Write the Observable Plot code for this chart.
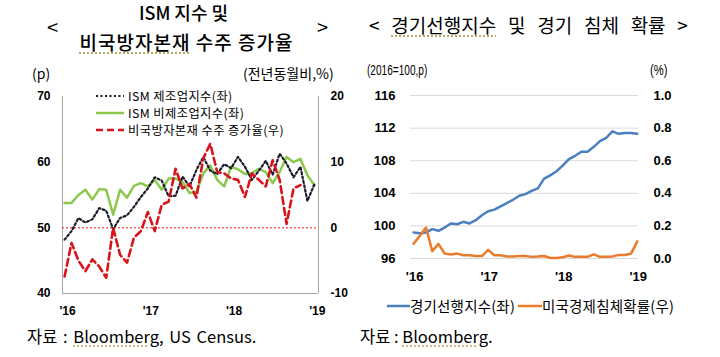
<!DOCTYPE html>
<html><head><meta charset="utf-8">
<script src="https://cdn.jsdelivr.net/npm/d3@7"></script>
<script src="https://cdn.jsdelivr.net/npm/@observablehq/plot@0.6"></script>
<style>
body{margin:0;background:#fff;width:720px;height:357px;overflow:hidden;position:relative;font-family:"Noto Sans CJK KR","Noto Sans",sans-serif;color:#000;}
.abs{position:absolute;white-space:nowrap;line-height:1;}
.sq{text-decoration:underline dotted #b8a86a;text-underline-offset:3px;}
.num{font-family:"Liberation Sans",Arial,sans-serif;}
.leg{display:flex;align-items:center;font-size:12.3px;letter-spacing:0.4px;height:16.7px;}
.leg svg{margin-right:4px;}
</style></head><body>
<div id="left" class="abs" style="left:0;top:0"></div>
<div id="right" class="abs" style="left:360px;top:0"></div>

<div class="abs" style="left:0;width:367px;top:3px;text-align:center;font-size:18px;font-weight:500;">ISM 지수 및</div>
<div class="abs" style="left:0;width:373px;top:32px;text-align:center;font-size:19px;font-weight:500;letter-spacing:1px;"><span class="sq">비국방자본재</span> 수주 증가율</div>
<div class="abs" style="left:47px;top:17px;font-size:20px;">&lt;</div>
<div class="abs" style="left:317px;top:17px;font-size:20px;">&gt;</div>
<div class="abs" style="left:32px;top:66px;font-size:14px;">(p)</div>
<div class="abs" style="left:243px;top:66px;font-size:14px;">(전년동월비,%)</div>

<div class="abs" style="left:96px;top:88px;">
  <div class="leg"><svg width="28" height="6"><line x1="0" x2="28" y1="3" y2="3" stroke="#1b1b2b" stroke-width="2.2" stroke-dasharray="2,2.5"/></svg>ISM 제조업지수(좌)</div>
  <div class="leg"><svg width="28" height="6"><line x1="0" x2="28" y1="3" y2="3" stroke="#8cc84b" stroke-width="2.5"/></svg>ISM 비제조업지수(좌)</div>
  <div class="leg"><svg width="28" height="6"><line x1="0" x2="28" y1="3" y2="3" stroke="#d7141c" stroke-width="2.6" stroke-dasharray="7,4"/></svg>비국방자본재 수주 증가율(우)</div>
</div>
<div class="abs" style="left:27px;top:328px;font-size:16.5px;word-spacing:2px;">자료 : <span class="sq">Bloomberg</span>, US Census.</div>

<div class="abs" style="left:369px;top:15px;font-size:19px;word-spacing:7.5px;">&lt; <span class="sq">경기선행지수</span> 및 경기 침체 확률 &gt;</div>
<div class="abs num" style="left:367px;top:63px;font-size:14px;transform:scaleX(0.72);transform-origin:left top;">(2016=100,p)</div>
<div class="abs num" style="left:650px;top:63px;font-size:14px;transform:scaleX(0.8);transform-origin:left top;">(%)</div>
<div class="abs" style="left:387px;top:299px;display:flex;align-items:center;font-size:14.5px;letter-spacing:0.2px;">
  <svg width="23" height="6"><line x1="0" x2="23" y1="3" y2="3" stroke="#4a7fc0" stroke-width="2.5"/></svg>경기선행지수(좌)
  <svg width="24" height="6" style="margin-left:3px"><line x1="0" x2="24" y1="3" y2="3" stroke="#ea7a2c" stroke-width="2.5"/></svg>미국경제침체확률(우)
</div>
<div class="abs" style="left:360px;top:328px;font-size:16.5px;">자료 : <span class="sq">Bloomberg</span>.</div>

<script>
// months Jan 2016 .. Jan 2019
const months = ["2016-01","2016-02","2016-03","2016-04","2016-05","2016-06","2016-07","2016-08","2016-09","2016-10","2016-11","2016-12",
"2017-01","2017-02","2017-03","2017-04","2017-05","2017-06","2017-07","2017-08","2017-09","2017-10","2017-11","2017-12",
"2018-01","2018-02","2018-03","2018-04","2018-05","2018-06","2018-07","2018-08","2018-09","2018-10","2018-11","2018-12","2019-01"];
const xTickMonths = ["2016-01","2017-01","2018-01","2019-01"];
const xTickLabels = ["'16","'17","'18","'19"];

// Left panel
const ismMfg = [48.2,49.5,51.5,50.8,51.3,53.0,52.6,49.8,51.5,51.9,53.2,54.7,
56.0,57.7,57.2,54.8,54.9,57.8,56.3,58.8,60.8,58.7,58.2,59.7,
59.1,60.8,59.3,57.3,58.7,60.2,58.1,61.3,59.8,57.7,59.3,54.1,56.6];
const ismNonMfg = [53.8,53.8,55.0,55.8,54.3,55.9,55.8,52.0,55.8,54.6,56.4,56.8,
56.3,57.3,55.8,57.5,57.5,57.0,55.3,55.5,58.3,59.5,57.3,56.3,
59.3,58.9,58.2,58.3,59.0,58.5,56.8,58.5,60.8,60.0,60.5,58.0,56.5];
const capGoodsYoY = [-7.4,-2.3,-5.0,-6.6,-4.8,-5.9,-7.6,0.0,-4.1,-5.3,-1.5,-0.5,
2.4,-0.5,3.5,4.0,9.0,6.0,6.7,4.6,10.6,12.8,8.5,8.3,
7.5,7.3,4.7,8.3,7.3,6.3,10.3,7.3,0.6,6.0,6.5];
const leftTicks = [40,50,60,70];      // left axis (p)
const rightTicksL = [-10,0,10,20];    // right axis (%)
const leftDomain = [40,70];
const rightDomainL = [-10,20];

// Right panel
const lei = [99.2,99.1,99.2,99.6,99.4,99.8,100.3,100.2,100.5,100.3,100.7,101.3,
101.8,102.0,102.4,102.8,103.2,103.7,103.9,104.3,104.6,105.8,106.2,106.7,
107.4,108.2,108.6,109.1,109.1,109.7,110.4,110.8,111.6,111.3,111.4,111.4,111.3];
const recessionProb = [0.09,0.14,0.19,0.045,0.09,0.03,0.025,0.03,0.02,0.02,0.015,0.015,
0.053,0.02,0.02,0.012,0.012,0.015,0.015,0.01,0.012,0.015,0.003,0.003,
0.008,0.018,0.01,0.01,0.01,0.025,0.01,0.01,0.012,0.022,0.022,0.03,0.105];
const leiTicks = [96,100,104,108,112,116];
const probTicks = [0,0.2,0.4,0.6,0.8,1.0];
const leiDomain = [96,116];
const probDomain = [0,1];

const idx = m => months.indexOf(m);
const xTicks = xTickMonths.map(idx);
const tickLab = d => xTickLabels[xTicks.indexOf(d)];

// map right-axis values onto left scale (linear)
const mapL = v => leftDomain[0] + (v - rightDomainL[0]) / (rightDomainL[1]-rightDomainL[0]) * (leftDomain[1]-leftDomain[0]);
const unmapL = d => (rightDomainL[0] + (d - leftDomain[0]) / (leftDomain[1]-leftDomain[0]) * (rightDomainL[1]-rightDomainL[0]));
const mapR = v => leiDomain[0] + (v - probDomain[0]) / (probDomain[1]-probDomain[0]) * (leiDomain[1]-leiDomain[0]);
const unmapR = d => probDomain[0] + (d - leiDomain[0]) / (leiDomain[1]-leiDomain[0]) * (probDomain[1]-probDomain[0]);

const axFont = {fontFamily:"Liberation Sans, Arial, sans-serif", fontWeight:"bold"};
const xDomL = [-0.3, 36.6];

const L = Plot.plot({
  width:360, height:357, marginLeft:62, marginRight:42, marginTop:96, marginBottom:64,
  style:{background:"transparent", fontFamily:"Liberation Sans, Arial, sans-serif", color:"#000", overflow:"visible"},
  x:{domain:xDomL, axis:null},
  y:{domain:leftDomain, axis:null},
  marks:[
    Plot.ruleX(xDomL, {stroke:"#a6a6a6", strokeWidth:1}),
    Plot.ruleY([leftDomain[0]], {stroke:"#a6a6a6", strokeWidth:1}),
    Plot.ruleY([mapL(0)], {stroke:"#e3141c", strokeWidth:1, strokeDasharray:"2,2"}),
    Plot.axisY(leftTicks, {anchor:"left", tickSize:0, tickPadding:12, fontSize:12, ...axFont}),
    Plot.axisY(rightTicksL.map(mapL), {anchor:"right", tickSize:0, tickPadding:12, fontSize:12, ...axFont, tickFormat:d=>String(Math.round(unmapL(d)))}),
    Plot.axisX(xTicks, {anchor:"bottom", tickSize:0, tickPadding:13, dx:3, fontSize:12, ...axFont, tickFormat:tickLab}),
    Plot.lineY(ismNonMfg, {x:(d,i)=>i, y:d=>d, stroke:"#8cc84b", strokeWidth:2.5}),
    Plot.lineY(ismMfg, {x:(d,i)=>i, y:d=>d, stroke:"#1b1b2b", strokeWidth:2.2, strokeDasharray:"2,2.5"}),
    Plot.lineY(capGoodsYoY, {x:(d,i)=>i, y:d=>mapL(d), stroke:"#d7141c", strokeWidth:2.6, strokeDasharray:"7,4"})
  ]
});
document.getElementById("left").appendChild(L);

const xDomR = [-0.5, 36.2];
const R = Plot.plot({
  width:360, height:357, marginLeft:50, marginRight:82, marginTop:95, marginBottom:99,
  style:{background:"transparent", fontFamily:"Liberation Sans, Arial, sans-serif", color:"#000", overflow:"visible"},
  x:{domain:xDomR, axis:null},
  y:{domain:leiDomain, axis:null},
  marks:[
    Plot.gridY(leiTicks, {stroke:"#d9d9d9", strokeOpacity:1, strokeWidth:1}),
    Plot.axisY(leiTicks, {anchor:"left", tickSize:0, tickPadding:15, fontSize:13, ...axFont}),
    Plot.axisY(probTicks.map(mapR), {anchor:"right", tickSize:0, tickPadding:15, fontSize:13, ...axFont, tickFormat:d=>unmapR(d).toFixed(1)}),
    Plot.axisX(xTicks, {anchor:"bottom", tickSize:0, tickPadding:13, dx:1, fontSize:13, ...axFont, tickFormat:tickLab}),
    Plot.lineY(lei, {x:(d,i)=>i, y:d=>d, stroke:"#4a7fc0", strokeWidth:2.5}),
    Plot.lineY(recessionProb, {x:(d,i)=>i, y:d=>mapR(d), stroke:"#ea7a2c", strokeWidth:2.5})
  ]
});
document.getElementById("right").appendChild(R);
</script>
</body></html>
